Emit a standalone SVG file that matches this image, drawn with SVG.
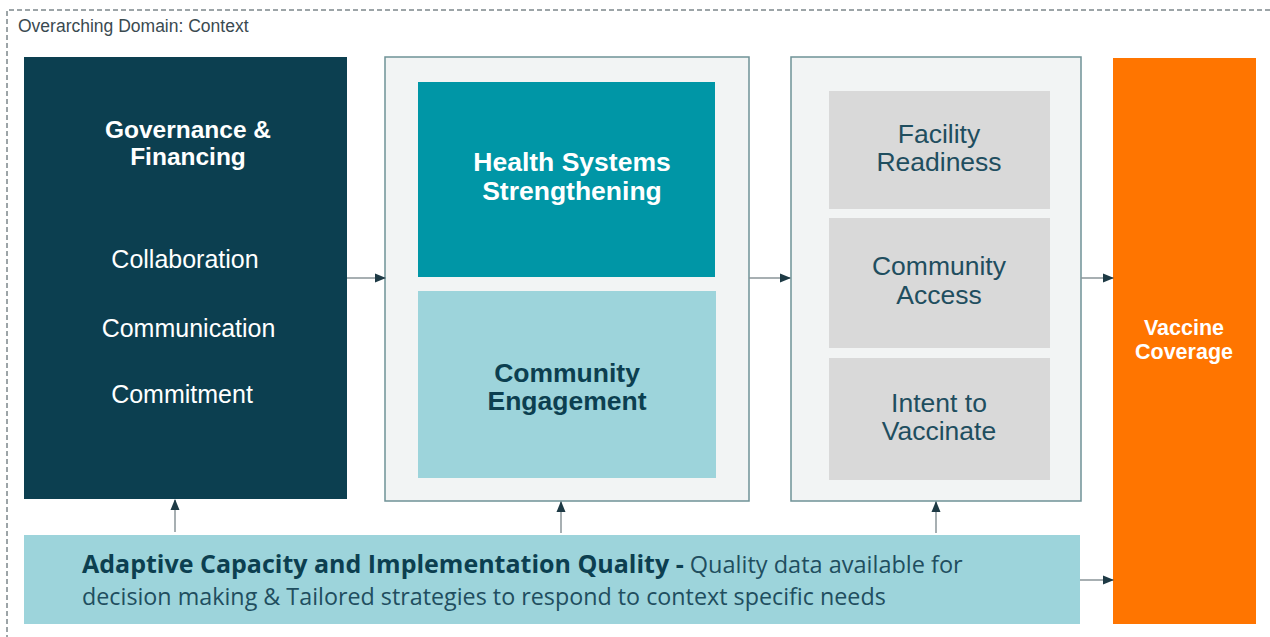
<svg xmlns="http://www.w3.org/2000/svg" width="1270" height="637" viewBox="0 0 1270 637">
<defs>
<marker id="ah" markerWidth="11" markerHeight="11" refX="10" refY="5.5" orient="auto" markerUnits="userSpaceOnUse">
<path d="M0,1 L11,5.5 L0,10 Z" fill="#1e3a45"/>
</marker>
<style>
.t{font-family:"Liberation Sans",Arial,sans-serif;text-anchor:middle}
.b{font-weight:bold}
.cont{fill:#f2f4f4;stroke:#6f9297;stroke-width:1.5}
.grey{fill:#d9d9d9}
.gt{fill:#1f4e5f;font-size:26.5px}
.conn{stroke:#8a9598;stroke-width:1.5;fill:none;marker-end:url(#ah)}
</style>
</defs>
<rect width="1270" height="637" fill="#ffffff"/>
<g id="context">
<path d="M7,640 L7,10 L1270,10" fill="none" stroke="#3a4a50" stroke-width="1" stroke-dasharray="5,3"/>
<text x="18" y="32" style="font-family:'Liberation Sans',Arial,sans-serif;font-size:17.5px;fill:#3a4a50">Overarching Domain: Context</text>
</g>
<g id="governance">
<rect x="24" y="57" width="323" height="442" fill="#0c3f50"/>
<text class="t b" x="188" y="138" fill="#ffffff" font-size="24.5">Governance &amp;</text>
<text class="t b" x="188" y="165" fill="#ffffff" font-size="24.5">Financing</text>
<text class="t" x="185" y="268" fill="#ffffff" font-size="25">Collaboration</text>
<text class="t" x="188.5" y="337" fill="#ffffff" font-size="25">Communication</text>
<text class="t" x="182" y="403" fill="#ffffff" font-size="25">Commitment</text>
</g>
<g id="middle">
<rect class="cont" x="385" y="57" width="364" height="444"/>
</g>
<g id="hss">
<rect x="418" y="82" width="297" height="195" fill="#0096a6"/>
<text class="t b" x="572" y="171" fill="#ffffff" font-size="26.5">Health Systems</text>
<text class="t b" x="572" y="200" fill="#ffffff" font-size="26.5">Strengthening</text>
</g>
<g id="ce">
<rect x="418" y="291" width="298" height="187" fill="#9dd4db"/>
<text class="t b" x="567" y="382" fill="#0c3f50" font-size="26.5">Community</text>
<text class="t b" x="567" y="410" fill="#0c3f50" font-size="26.5">Engagement</text>
</g>
<g id="right">
<rect class="cont" x="791" y="57" width="290" height="444"/>
</g>
<g id="facility">
<rect class="grey" x="829" y="91" width="221" height="118"/>
<text class="t gt" x="939" y="143">Facility</text>
<text class="t gt" x="939" y="171">Readiness</text>
</g>
<g id="access">
<rect class="grey" x="829" y="218" width="221" height="130"/>
<text class="t gt" x="939" y="275">Community</text>
<text class="t gt" x="939" y="304">Access</text>
</g>
<g id="intent">
<rect class="grey" x="829" y="358" width="221" height="122"/>
<text class="t gt" x="939" y="412">Intent to</text>
<text class="t gt" x="939" y="440">Vaccinate</text>
</g>
<g id="coverage">
<rect x="1113" y="58" width="143" height="566" fill="#ff7500"/>
<text class="t b" x="1184" y="335" fill="#ffffff" font-size="21.5">Vaccine</text>
<text class="t b" x="1184" y="359" fill="#ffffff" font-size="21.5">Coverage</text>
</g>
<g id="adaptive">
<rect x="24" y="535" width="1056" height="89" fill="#9dd4db"/>
<text x="82" y="573" style="font-family:'Open Sans','Liberation Sans',sans-serif;fill:#0c3f50"><tspan font-weight="bold" font-size="25">Adaptive Capacity and Implementation Quality -</tspan><tspan font-size="23.5" fill="#1f4e5f"> Quality data available for</tspan></text>
<text x="82" y="605" style="font-family:'Open Sans','Liberation Sans',sans-serif;font-size:23.3px;fill:#1f4e5f">decision making &amp; Tailored strategies to respond to context specific needs</text>
</g>
<g id="connectors">
<line class="conn" x1="347" y1="278" x2="385" y2="278"/>
<line class="conn" x1="749" y1="278" x2="790" y2="278"/>
<line class="conn" x1="1081" y1="278" x2="1113" y2="278"/>
<line class="conn" x1="1080" y1="580" x2="1113" y2="580"/>
<line class="conn" x1="175" y1="532" x2="175" y2="500"/>
<line class="conn" x1="561" y1="533" x2="561" y2="502"/>
<line class="conn" x1="936" y1="533" x2="936" y2="502"/>
</g>
</svg>
